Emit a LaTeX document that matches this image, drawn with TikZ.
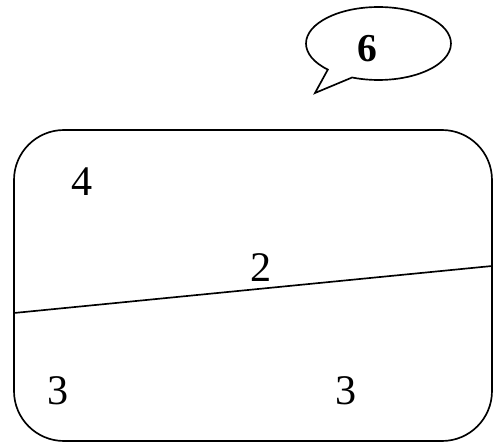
\documentclass[tikz,border=0pt]{standalone}
\usepackage{fontspec}
\setmainfont{Liberation Serif}
\usetikzlibrary{shapes.callouts}

\begin{document}
\begin{tikzpicture}[
    x=0.02cm, y=-0.02cm,
    line width=0.95pt,
    num/.style={font=\fontsize{24}{28}\selectfont, inner sep=0pt},
    bubble/.style={
        draw,
        ellipse callout,
        minimum width=2.9cm,
        minimum height=1.46cm,
        callout pointer arc=23,
        inner sep=0pt
    }
]
\useasboundingbox (0,0) rectangle (495,443);

% the board and its cut
\draw[rounded corners=1cm] (14,130) rectangle (492,441);
\coordinate (cutL) at (14,313);
\coordinate (cutR) at (492,266);
\draw (cutL) -- (cutR);

\node[num] (four) at (82,182) {4};
\node[num] (two) at (261,268) {2};
\node[num] (threeL) at (58,391) {3};
\node[num] (threeR) at (346,391) {3};

% speech bubble
\coordinate (tip) at (315,93);
\node[bubble, callout absolute pointer={(tip)}] (callout) at (378.5,43.5) {};
\node[font=\bfseries\fontsize{22.5}{26}\selectfont, inner sep=0pt] (six) at (367,48.5) {6};
\end{tikzpicture}
\end{document}
